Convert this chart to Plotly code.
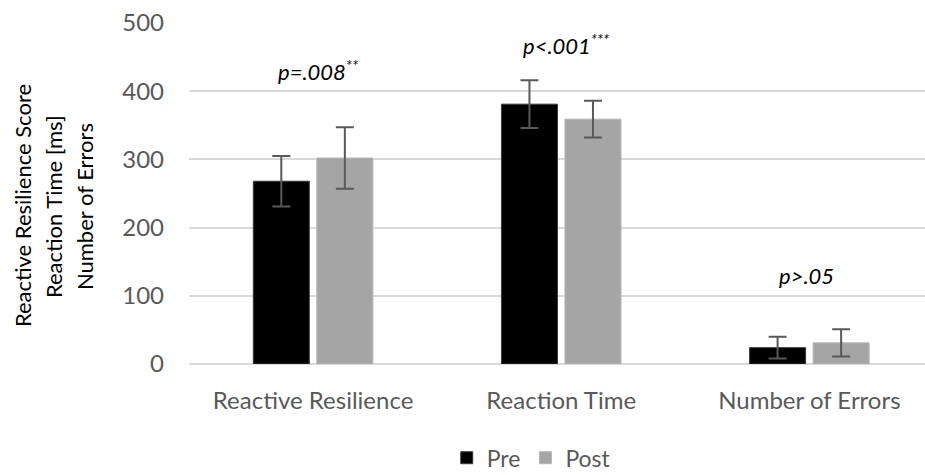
import plotly.graph_objects as go

# ---- data ----
categories = ["Reactive Resilience", "Reaction Time", "Number of Errors"]
pre_means = [268, 381, 24]
post_means = [302, 359, 31]
pre_err = [37, 35, 16]
post_err = [45, 27, 20]
p_labels = ["p=.008<sup>**</sup>", "p<.001<sup>***</sup>", "p>.05"]
y_title_lines = ["Reactive Resilience Score", "Reaction Time [ms]", "Number of Errors"]
y_ticks = [0, 100, 200, 300, 400, 500]

FONT = "Lato, Carlito, Calibri, sans-serif"
GREY_TXT = "#595959"

fig = go.Figure()
fig.add_trace(go.Bar(
    name="Pre", x=categories, y=pre_means,
    marker=dict(color="#000000", line=dict(color="#3a3a3a", width=1)),
    error_y=dict(type="data", array=pre_err, visible=True,
                 color="#595959", thickness=2, width=9),
))
fig.add_trace(go.Bar(
    name="Post", x=categories, y=post_means,
    marker=dict(color="#A5A5A5", line=dict(color="#b5b5b5", width=1)),
    error_y=dict(type="data", array=post_err, visible=True,
                 color="#595959", thickness=2, width=9),
))

# p-value annotations (placement in data coordinates)
p_pos = [(0, 430, 5), (1, 468, 5), (2, 130, -3)]
for txt, (xi, yv, xs) in zip(p_labels, p_pos):
    fig.add_annotation(x=categories[xi], y=yv, xref="x", yref="y", text=f"<i>{txt}</i>",
                       showarrow=False, xshift=xs, xanchor="center", yanchor="middle",
                       font=dict(family=FONT, size=22, color="#000000"))

# multi-line vertical y-axis title
title_x = [-0.2269, -0.1848, -0.1427]
for line, xp in zip(y_title_lines, title_x):
    fig.add_annotation(x=xp, y=0.463, xref="paper", yref="paper", text=line,
                       textangle=-90, showarrow=False, xanchor="center", yanchor="middle",
                       font=dict(family=FONT, size=22, color="#000000"))

fig.update_layout(
    width=925, height=475,
    margin=dict(l=189, r=0, t=23, b=111, autoexpand=False),
    paper_bgcolor="white", plot_bgcolor="white",
    barmode="group", bargap=0.488, bargroupgap=0.118,
    font=dict(family=FONT, color=GREY_TXT),
    showlegend=True,
    legend=dict(orientation="h", x=0.465, y=-0.275, xanchor="center", yanchor="middle",
                font=dict(family=FONT, size=23, color=GREY_TXT), itemwidth=30,
                tracegroupgap=0, traceorder="normal"),
)
fig.update_xaxes(range=[-0.5, 2.466], showgrid=False, showline=False, zeroline=False,
                 tickfont=dict(family=FONT, size=24, color=GREY_TXT), ticks="",
                 ticklabelstandoff=20)
fig.update_yaxes(range=[0, 500], tickvals=y_ticks, showgrid=True, gridcolor="#D9D9D9",
                 gridwidth=2, zeroline=True, zerolinecolor="#D9D9D9", zerolinewidth=2,
                 showline=False, ticks="", ticklabelstandoff=24,
                 tickfont=dict(family=FONT, size=24, color=GREY_TXT))

fig.write_html("out.html")
